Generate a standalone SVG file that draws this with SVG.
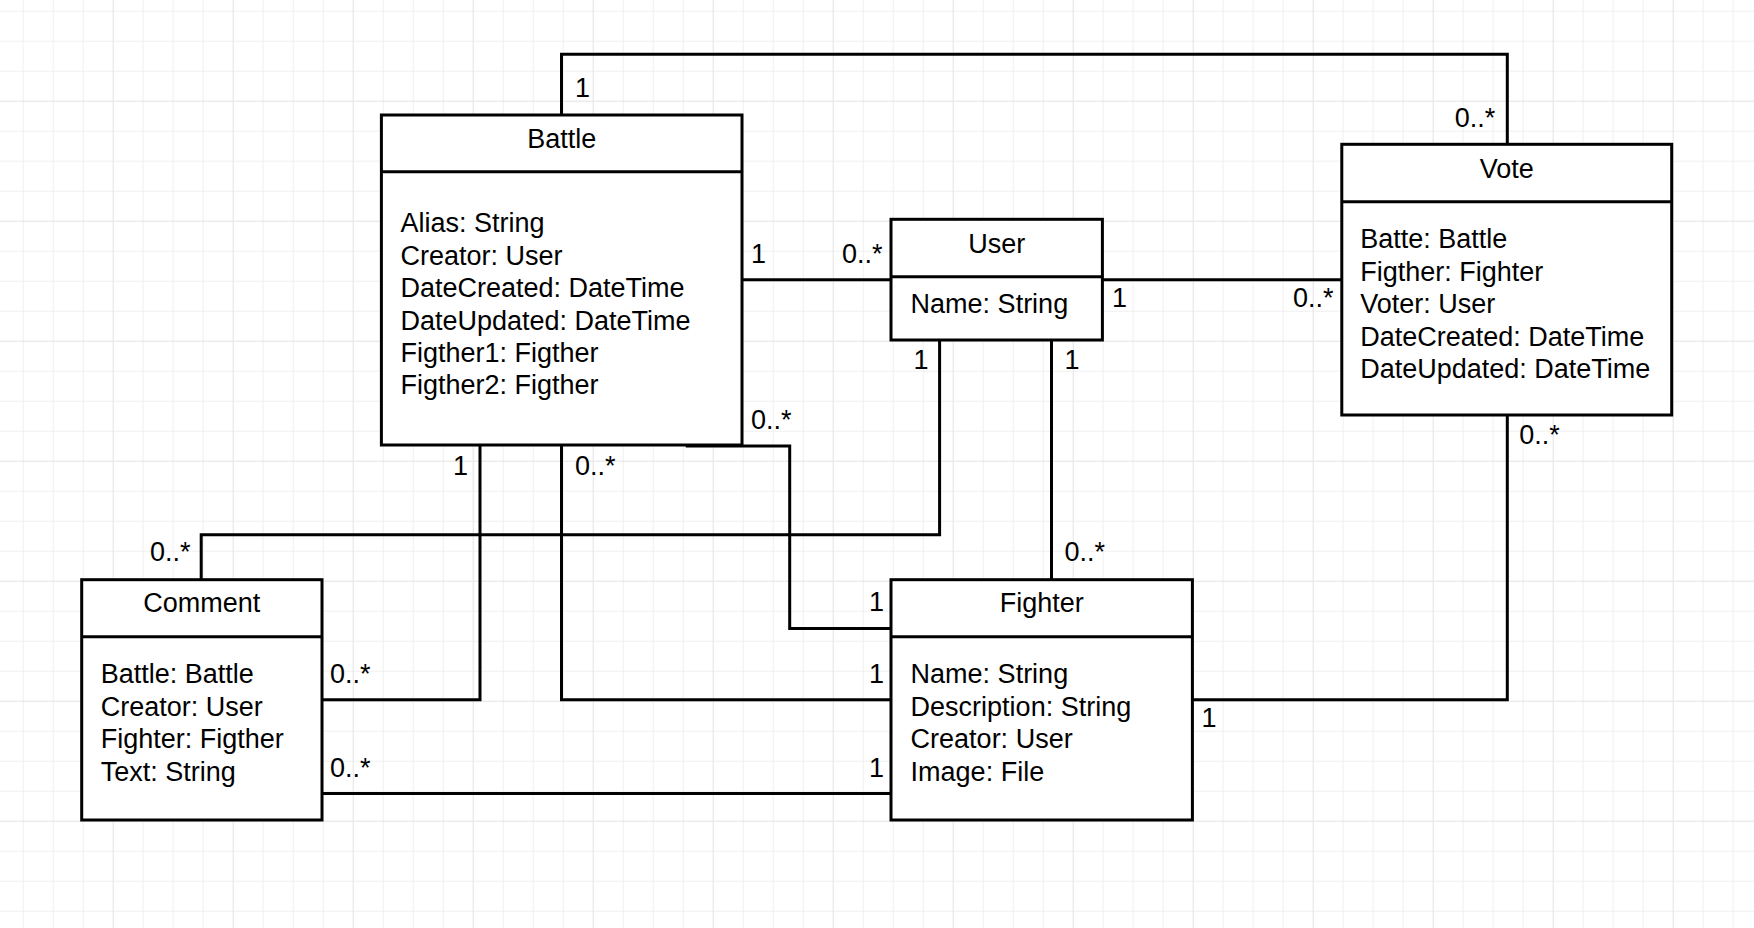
<svg xmlns="http://www.w3.org/2000/svg" width="1754" height="928" viewBox="0 0 1754 928">
<style>
text{font-family:"Liberation Sans",Arial,sans-serif;font-size:27px;fill:#000}
.t{text-anchor:middle}
.box{fill:#fff;stroke:#000;stroke-width:3}
.div{stroke:#000;stroke-width:3}
.c{fill:none;stroke:#000;stroke-width:3}
</style>
<defs>
<pattern id="grid" patternUnits="userSpaceOnUse" x="22.7" y="10.7" width="120" height="120">
<path d="M0.5 0V120M30.5 0V120M60.5 0V120M0 0.5H120M0 30.5H120M0 60.5H120" stroke="#f0f0f0" stroke-width="1" fill="none"/>
<path d="M90.5 0V120M0 90.5H120" stroke="#e3e3e3" stroke-width="1" fill="none"/>
</pattern>
</defs>
<rect width="1754" height="928" fill="#fff"/>
<rect width="1754" height="928" fill="url(#grid)"/>

<g id="connectors">
<polyline class="c" points="561.5,115 561.5,54.3 1507.3,54.3 1507.3,144.3"/>
<line class="c" x1="742" y1="279.7" x2="891" y2="279.7"/>
<line class="c" x1="1102.4" y1="279.7" x2="1341.8" y2="279.7"/>
<polyline class="c" points="939.6,340 939.6,534.7 201.2,534.7 201.2,579.7"/>
<line class="c" x1="1051.5" y1="340" x2="1051.5" y2="579.7"/>
<polyline class="c" points="480,445 480,699.8 322,699.8"/>
<polyline class="c" points="561.5,445 561.5,699.8 891,699.8"/>
<polyline class="c" points="685.7,446 789.7,446 789.7,628.5 891,628.5"/>
<line class="c" x1="322" y1="793.5" x2="891" y2="793.5"/>
<polyline class="c" points="1192.4,699.8 1507.3,699.8 1507.3,415"/>
</g>

<g id="labels">
<text x="575" y="96.7">1</text>
<text x="1454.7" y="126.7">0..*</text>
<text x="751" y="263.3">1</text>
<text x="842" y="263.3">0..*</text>
<text x="1112" y="306.7">1</text>
<text x="1293" y="306.7">0..*</text>
<text x="913.4" y="369.3">1</text>
<text x="1064.4" y="369.3">1</text>
<text x="751" y="429">0..*</text>
<text x="453" y="475">1</text>
<text x="575" y="475">0..*</text>
<text x="150" y="561.3">0..*</text>
<text x="1064.4" y="560.7">0..*</text>
<text x="869" y="610.7">1</text>
<text x="869" y="683.3">1</text>
<text x="869" y="777.3">1</text>
<text x="330" y="683.3">0..*</text>
<text x="330" y="777.3">0..*</text>
<text x="1201.4" y="727.3">1</text>
<text x="1519.3" y="444.3">0..*</text>
</g>

<g id="battle">
<rect class="box" x="381.4" y="115" width="360.6" height="330"/>
<line class="div" x1="381.4" y1="171.7" x2="742" y2="171.7"/>
<text class="t" x="561.7" y="148.3">Battle</text>
<text x="400.4" y="232.3">Alias: String</text>
<text x="400.4" y="264.7">Creator: User</text>
<text x="400.4" y="297.1">DateCreated: DateTime</text>
<text x="400.4" y="329.5">DateUpdated: DateTime</text>
<text x="400.4" y="361.9">Figther1: Figther</text>
<text x="400.4" y="394.3">Figther2: Figther</text>
</g>

<g id="vote">
<rect class="box" x="1341.8" y="144.3" width="329.9" height="270.7"/>
<line class="div" x1="1341.8" y1="201.7" x2="1671.7" y2="201.7"/>
<text class="t" x="1506.7" y="178.3">Vote</text>
<text x="1360.2" y="248.3">Batte: Battle</text>
<text x="1360.2" y="280.7">Figther: Fighter</text>
<text x="1360.2" y="313.1">Voter: User</text>
<text x="1360.2" y="345.5">DateCreated: DateTime</text>
<text x="1360.2" y="377.9">DateUpdated: DateTime</text>
</g>

<g id="user">
<rect class="box" x="891" y="219.3" width="211.4" height="120.7"/>
<line class="div" x1="891" y1="276.7" x2="1102.4" y2="276.7"/>
<text class="t" x="996.7" y="253.3">User</text>
<text x="910.6" y="313.3">Name: String</text>
</g>

<g id="comment">
<rect class="box" x="81.7" y="579.7" width="240.3" height="240.3"/>
<line class="div" x1="81.7" y1="636.7" x2="322" y2="636.7"/>
<text class="t" x="201.8" y="612.3">Comment</text>
<text x="100.7" y="683">Battle: Battle</text>
<text x="100.7" y="715.6">Creator: User</text>
<text x="100.7" y="748.2">Fighter: Figther</text>
<text x="100.7" y="780.8">Text: String</text>
</g>

<g id="fighter">
<rect class="box" x="891" y="579.7" width="301.4" height="240.3"/>
<line class="div" x1="891" y1="636.7" x2="1192.4" y2="636.7"/>
<text class="t" x="1041.7" y="612.3">Fighter</text>
<text x="910.6" y="683">Name: String</text>
<text x="910.6" y="715.6">Description: String</text>
<text x="910.6" y="748.2">Creator: User</text>
<text x="910.6" y="780.8">Image: File</text>
</g>
</svg>
